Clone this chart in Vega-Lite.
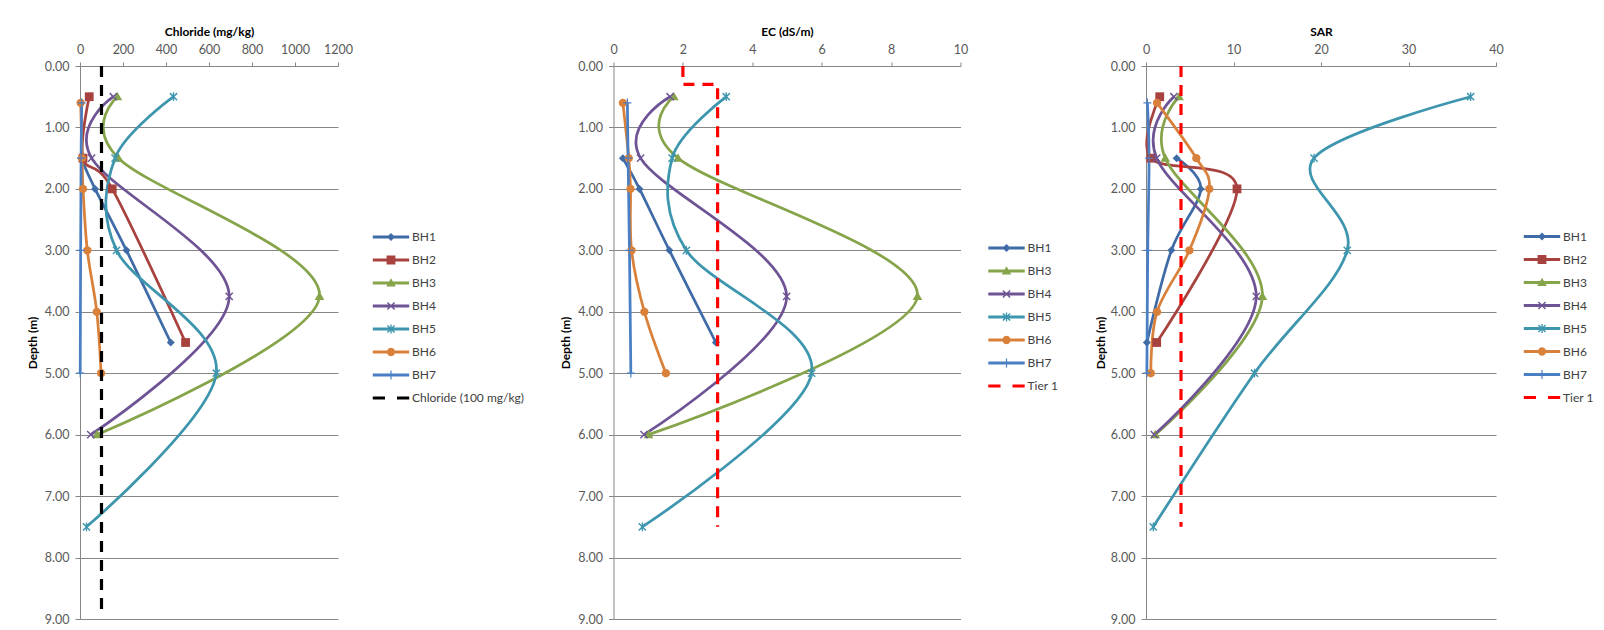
{
  "$schema": "https://vega.github.io/schema/vega-lite/v6.json",
  "background": "white",
  "padding": {"left": 26, "top": 25, "right": 0, "bottom": 0},
  "datasets": {
    "chl": [
      {"series": "BH1", "depth": 1.5, "value": 5},
      {"series": "BH1", "depth": 2.0, "value": 70},
      {"series": "BH1", "depth": 3.0, "value": 216},
      {"series": "BH1", "depth": 4.5, "value": 422},
      {"series": "BH2", "depth": 0.5, "value": 43},
      {"series": "BH2", "depth": 1.5, "value": 14},
      {"series": "BH2", "depth": 2.0, "value": 150},
      {"series": "BH2", "depth": 4.5, "value": 491},
      {"series": "BH3", "depth": 0.5, "value": 174},
      {"series": "BH3", "depth": 1.5, "value": 179},
      {"series": "BH3", "depth": 3.75, "value": 1114},
      {"series": "BH3", "depth": 6.0, "value": 79},
      {"series": "BH4", "depth": 0.5, "value": 155},
      {"series": "BH4", "depth": 1.5, "value": 54},
      {"series": "BH4", "depth": 3.75, "value": 694},
      {"series": "BH4", "depth": 6.0, "value": 50},
      {"series": "BH5", "depth": 0.5, "value": 435},
      {"series": "BH5", "depth": 1.5, "value": 163},
      {"series": "BH5", "depth": 3.0, "value": 170},
      {"series": "BH5", "depth": 5.0, "value": 634},
      {"series": "BH5", "depth": 7.5, "value": 30},
      {"series": "BH6", "depth": 0.6, "value": 3},
      {"series": "BH6", "depth": 1.5, "value": 10},
      {"series": "BH6", "depth": 2.0, "value": 14},
      {"series": "BH6", "depth": 3.0, "value": 34},
      {"series": "BH6", "depth": 4.0, "value": 78},
      {"series": "BH6", "depth": 5.0, "value": 98},
      {"series": "BH7", "depth": 0.6, "value": 8},
      {"series": "BH7", "depth": 1.5, "value": 5},
      {"series": "BH7", "depth": 3.0, "value": 3},
      {"series": "BH7", "depth": 5.0, "value": 1},
      {"series": "Chloride (100 mg/kg)", "depth": 0, "value": 100},
      {"series": "Chloride (100 mg/kg)", "depth": 8.9, "value": 100}
    ],
    "ec": [
      {"series": "BH1", "depth": 1.5, "value": 0.27},
      {"series": "BH1", "depth": 2.0, "value": 0.75},
      {"series": "BH1", "depth": 3.0, "value": 1.61},
      {"series": "BH1", "depth": 4.5, "value": 2.95},
      {"series": "BH3", "depth": 0.5, "value": 1.74},
      {"series": "BH3", "depth": 1.5, "value": 1.86},
      {"series": "BH3", "depth": 3.75, "value": 8.76},
      {"series": "BH3", "depth": 6.0, "value": 1.01},
      {"series": "BH4", "depth": 0.5, "value": 1.63},
      {"series": "BH4", "depth": 1.5, "value": 0.78},
      {"series": "BH4", "depth": 3.75, "value": 4.99},
      {"series": "BH4", "depth": 6.0, "value": 0.88},
      {"series": "BH5", "depth": 0.5, "value": 3.25},
      {"series": "BH5", "depth": 1.5, "value": 1.69},
      {"series": "BH5", "depth": 3.0, "value": 2.1},
      {"series": "BH5", "depth": 5.0, "value": 5.71},
      {"series": "BH5", "depth": 7.5, "value": 0.83},
      {"series": "BH6", "depth": 0.6, "value": 0.27},
      {"series": "BH6", "depth": 1.5, "value": 0.44},
      {"series": "BH6", "depth": 2.0, "value": 0.49},
      {"series": "BH6", "depth": 3.0, "value": 0.52},
      {"series": "BH6", "depth": 4.0, "value": 0.89},
      {"series": "BH6", "depth": 5.0, "value": 1.51},
      {"series": "BH7", "depth": 0.6, "value": 0.4},
      {"series": "BH7", "depth": 1.5, "value": 0.42},
      {"series": "BH7", "depth": 3.0, "value": 0.46},
      {"series": "BH7", "depth": 5.0, "value": 0.5},
      {"series": "Tier 1", "depth": 0, "value": 2},
      {"series": "Tier 1", "depth": 0.3, "value": 2},
      {"series": "Tier 1", "depth": 0.3, "value": 3},
      {"series": "Tier 1", "depth": 7.5, "value": 3}
    ],
    "sar": [
      {"series": "BH1", "depth": 1.5, "value": 3.5},
      {"series": "BH1", "depth": 2.0, "value": 6.26},
      {"series": "BH1", "depth": 3.0, "value": 2.9},
      {"series": "BH1", "depth": 4.5, "value": 0.1},
      {"series": "BH2", "depth": 0.5, "value": 1.57},
      {"series": "BH2", "depth": 1.5, "value": 0.55},
      {"series": "BH2", "depth": 2.0, "value": 10.4},
      {"series": "BH2", "depth": 4.5, "value": 1.22},
      {"series": "BH3", "depth": 0.5, "value": 3.78},
      {"series": "BH3", "depth": 1.5, "value": 2.2},
      {"series": "BH3", "depth": 3.75, "value": 13.3},
      {"series": "BH3", "depth": 6.0, "value": 1.06},
      {"series": "BH4", "depth": 0.5, "value": 3.19},
      {"series": "BH4", "depth": 1.5, "value": 1.22},
      {"series": "BH4", "depth": 3.75, "value": 12.6},
      {"series": "BH4", "depth": 6.0, "value": 0.95},
      {"series": "BH5", "depth": 0.5, "value": 37.1},
      {"series": "BH5", "depth": 1.5, "value": 19.2},
      {"series": "BH5", "depth": 3.0, "value": 23.0},
      {"series": "BH5", "depth": 5.0, "value": 12.4},
      {"series": "BH5", "depth": 7.5, "value": 0.83},
      {"series": "BH6", "depth": 0.6, "value": 1.26},
      {"series": "BH6", "depth": 1.5, "value": 5.75},
      {"series": "BH6", "depth": 2.0, "value": 7.24},
      {"series": "BH6", "depth": 3.0, "value": 4.96},
      {"series": "BH6", "depth": 4.0, "value": 1.26},
      {"series": "BH6", "depth": 5.0, "value": 0.55},
      {"series": "BH7", "depth": 0.6, "value": 0.16},
      {"series": "BH7", "depth": 1.5, "value": 0.35},
      {"series": "BH7", "depth": 3.0, "value": 0.2},
      {"series": "BH7", "depth": 5.0, "value": 0.1},
      {"series": "Tier 1", "depth": 0, "value": 4},
      {"series": "Tier 1", "depth": 7.5, "value": 4}
    ]
  },
  "hconcat": [
    {
      "data": {"name": "chl"},
      "width": 258,
      "height": 553,
      "encoding": {
        "x": {"field": "value", "type": "quantitative", "scale": {"domain": [0, 1200], "nice": false, "zero": false},
              "axis": {"orient": "top", "title": "Chloride (mg/kg)", "values": [0, 200, 400, 600, 800, 1000, 1200], "format": "d"}},
        "y": {"field": "depth", "type": "quantitative", "scale": {"domain": [0, 9], "reverse": true, "nice": false, "zero": false},
              "axis": {"title": "Depth (m)", "values": [0, 1, 2, 3, 4, 5, 6, 7, 8, 9], "format": ".2f"}}
      },
      "layer": [
        {
          "transform": [{"filter": "datum.series !== 'Chloride (100 mg/kg)'"}],
          "mark": {"type": "line", "interpolate": "cardinal", "strokeWidth": 2.75},
          "encoding": {
            "color": {"field": "series", "type": "nominal", "legend": null,
                      "scale": {"domain": ["BH1", "BH2", "BH3", "BH4", "BH5", "BH6", "BH7", "Chloride (100 mg/kg)"],
                                "range": ["#3F6BA7", "#A8423F", "#86A44A", "#6E5494", "#3D96AE", "#D9813A", "#4A7FC4", "#000000"]}},
            "order": {"field": "depth", "type": "quantitative"}
          }
        },
        {
          "transform": [{"filter": "datum.series !== 'Chloride (100 mg/kg)'"}],
          "mark": {"type": "point", "filled": true, "opacity": 1, "size": 64},
          "encoding": {
            "color": {"field": "series", "type": "nominal", "legend": null,
                      "scale": {"domain": ["BH1", "BH2", "BH3", "BH4", "BH5", "BH6", "BH7", "Chloride (100 mg/kg)"],
                                "range": ["#3F6BA7", "#A8423F", "#86A44A", "#6E5494", "#3D96AE", "#D9813A", "#4A7FC4", "#000000"]}},
            "shape": {"field": "series", "type": "nominal", "legend": null,
                      "scale": {"domain": ["BH1", "BH2", "BH3", "BH4", "BH5", "BH6", "BH7", "Chloride (100 mg/kg)"],
                                "range": [
                                  "M0,-1L1,0L0,1L-1,0Z",
                                  "M-1.1,-1.1H1.1V1.1H-1.1Z",
                                  "M0,-1.2L1.2,0.9L-1.2,0.9Z",
                                  "M-0.773,-1.027L1.027,0.773L0.773,1.027L-1.027,-0.773ZM-1.027,0.773L0.773,-1.027L1.027,-0.773L-0.773,1.027Z",
                                  "M-0.773,-1.027L1.027,0.773L0.773,1.027L-1.027,-0.773ZM-1.027,0.773L0.773,-1.027L1.027,-0.773L-0.773,1.027ZM-0.17,-1.1H0.17V1.1H-0.17Z",
                                  "M0,-1.05L0.525,-0.909L0.909,-0.525L1.05,0L0.909,0.525L0.525,0.909L0,1.05L-0.525,0.909L-0.909,0.525L-1.05,0L-0.909,-0.525L-0.525,-0.909Z",
                                  "M-0.15,-1.1H0.15V1.1H-0.15ZM-1,-0.15H1V0.15H-1Z",
                                  "M-0.1,-0.1H0.1V0.1H-0.1Z"
                                ]}}
          }
        },
        {
          "transform": [{"filter": "datum.series === 'Chloride (100 mg/kg)'"}],
          "mark": {"type": "line", "color": "#000000", "strokeWidth": 3.2, "strokeDash": [11, 8]},
          "encoding": {"order": [{"field": "depth", "type": "quantitative"}, {"field": "value", "type": "quantitative"}]}
        },
        {
          "mark": {"type": "point", "filled": true, "opacity": 1, "size": 0},
          "encoding": {
            "color": {"field": "series", "type": "nominal",
                      "scale": {"domain": ["BH1", "BH2", "BH3", "BH4", "BH5", "BH6", "BH7", "Chloride (100 mg/kg)"],
                                "range": ["#3F6BA7", "#A8423F", "#86A44A", "#6E5494", "#3D96AE", "#D9813A", "#4A7FC4", "#000000"]},
                      "legend": {"orient": "none", "legendX": 292, "legendY": 165, "title": null, "symbolSize": 64,
                                 "symbolOpacity": 1, "symbolStrokeWidth": 0, "symbolOffset": 13, "labelOffset": 15,
                                 "rowPadding": 11, "padding": 0}},
            "shape": {"field": "series", "type": "nominal",
                      "scale": {"domain": ["BH1", "BH2", "BH3", "BH4", "BH5", "BH6", "BH7", "Chloride (100 mg/kg)"],
                                "range": [
                                  "M-4.55,-0.38H4.55V0.38H-4.55ZM0,-1L1,0L0,1L-1,0Z",
                                  "M-4.55,-0.38H4.55V0.38H-4.55ZM-1.1,-1.1H1.1V1.1H-1.1Z",
                                  "M-4.55,-0.38H4.55V0.38H-4.55ZM0,-1.2L1.2,0.9L-1.2,0.9Z",
                                  "M-4.55,-0.38H4.55V0.38H-4.55ZM-0.773,-1.027L1.027,0.773L0.773,1.027L-1.027,-0.773ZM-1.027,0.773L0.773,-1.027L1.027,-0.773L-0.773,1.027Z",
                                  "M-4.55,-0.38H4.55V0.38H-4.55ZM-0.773,-1.027L1.027,0.773L0.773,1.027L-1.027,-0.773ZM-1.027,0.773L0.773,-1.027L1.027,-0.773L-0.773,1.027ZM-0.17,-1.1H0.17V1.1H-0.17Z",
                                  "M-4.55,-0.38H4.55V0.38H-4.55ZM0,-1.05L0.525,-0.909L0.909,-0.525L1.05,0L0.909,0.525L0.525,0.909L0,1.05L-0.525,0.909L-0.909,0.525L-1.05,0L-0.909,-0.525L-0.525,-0.909Z",
                                  "M-4.55,-0.38H4.55V0.38H-4.55ZM-0.15,-1.1H0.15V1.1H-0.15Z",
                                  "M-4.55,-0.4H-1.5V0.4H-4.55ZM1.5,-0.4H4.55V0.4H1.5Z"
                                ]}}
          }
        }
      ],
      "resolve": {"scale": {"color": "independent", "shape": "independent"}, "legend": {"color": "independent", "shape": "independent"}}
    },
    {
      "data": {"name": "ec"},
      "width": 347,
      "height": 553,
      "encoding": {
        "x": {"field": "value", "type": "quantitative", "scale": {"domain": [0, 10], "nice": false, "zero": false},
              "axis": {"orient": "top", "title": "EC (dS/m)", "values": [0, 2, 4, 6, 8, 10], "format": "d"}},
        "y": {"field": "depth", "type": "quantitative", "scale": {"domain": [0, 9], "reverse": true, "nice": false, "zero": false},
              "axis": {"title": "Depth (m)", "values": [0, 1, 2, 3, 4, 5, 6, 7, 8, 9], "format": ".2f"}}
      },
      "layer": [
        {
          "transform": [{"filter": "datum.series !== 'Tier 1'"}],
          "mark": {"type": "line", "interpolate": "cardinal", "strokeWidth": 2.75},
          "encoding": {
            "color": {"field": "series", "type": "nominal", "legend": null,
                      "scale": {"domain": ["BH1", "BH3", "BH4", "BH5", "BH6", "BH7", "Tier 1"],
                                "range": ["#3F6BA7", "#86A44A", "#6E5494", "#3D96AE", "#D9813A", "#4A7FC4", "#FF0000"]}},
            "order": {"field": "depth", "type": "quantitative"}
          }
        },
        {
          "transform": [{"filter": "datum.series !== 'Tier 1'"}],
          "mark": {"type": "point", "filled": true, "opacity": 1, "size": 64},
          "encoding": {
            "color": {"field": "series", "type": "nominal", "legend": null,
                      "scale": {"domain": ["BH1", "BH3", "BH4", "BH5", "BH6", "BH7", "Tier 1"],
                                "range": ["#3F6BA7", "#86A44A", "#6E5494", "#3D96AE", "#D9813A", "#4A7FC4", "#FF0000"]}},
            "shape": {"field": "series", "type": "nominal", "legend": null,
                      "scale": {"domain": ["BH1", "BH3", "BH4", "BH5", "BH6", "BH7", "Tier 1"],
                                "range": [
                                  "M0,-1L1,0L0,1L-1,0Z",
                                  "M0,-1.2L1.2,0.9L-1.2,0.9Z",
                                  "M-0.773,-1.027L1.027,0.773L0.773,1.027L-1.027,-0.773ZM-1.027,0.773L0.773,-1.027L1.027,-0.773L-0.773,1.027Z",
                                  "M-0.773,-1.027L1.027,0.773L0.773,1.027L-1.027,-0.773ZM-1.027,0.773L0.773,-1.027L1.027,-0.773L-0.773,1.027ZM-0.17,-1.1H0.17V1.1H-0.17Z",
                                  "M0,-1.05L0.525,-0.909L0.909,-0.525L1.05,0L0.909,0.525L0.525,0.909L0,1.05L-0.525,0.909L-0.909,0.525L-1.05,0L-0.909,-0.525L-0.525,-0.909Z",
                                  "M-0.15,-1.1H0.15V1.1H-0.15ZM-1,-0.15H1V0.15H-1Z",
                                  "M-0.1,-0.1H0.1V0.1H-0.1Z"
                                ]}}
          }
        },
        {
          "transform": [{"filter": "datum.series === 'Tier 1'"}],
          "mark": {"type": "line", "color": "#FF0000", "strokeWidth": 3.2, "strokeDash": [11, 8]},
          "encoding": {"order": [{"field": "depth", "type": "quantitative"}, {"field": "value", "type": "quantitative"}]}
        },
        {
          "mark": {"type": "point", "filled": true, "opacity": 1, "size": 0},
          "encoding": {
            "color": {"field": "series", "type": "nominal",
                      "scale": {"domain": ["BH1", "BH3", "BH4", "BH5", "BH6", "BH7", "Tier 1"],
                                "range": ["#3F6BA7", "#86A44A", "#6E5494", "#3D96AE", "#D9813A", "#4A7FC4", "#FF0000"]},
                      "legend": {"orient": "none", "legendX": 374, "legendY": 176, "title": null, "symbolSize": 64,
                                 "symbolOpacity": 1, "symbolStrokeWidth": 0, "symbolOffset": 13, "labelOffset": 15,
                                 "rowPadding": 11, "padding": 0}},
            "shape": {"field": "series", "type": "nominal",
                      "scale": {"domain": ["BH1", "BH3", "BH4", "BH5", "BH6", "BH7", "Tier 1"],
                                "range": [
                                  "M-4.55,-0.38H4.55V0.38H-4.55ZM0,-1L1,0L0,1L-1,0Z",
                                  "M-4.55,-0.38H4.55V0.38H-4.55ZM0,-1.2L1.2,0.9L-1.2,0.9Z",
                                  "M-4.55,-0.38H4.55V0.38H-4.55ZM-0.773,-1.027L1.027,0.773L0.773,1.027L-1.027,-0.773ZM-1.027,0.773L0.773,-1.027L1.027,-0.773L-0.773,1.027Z",
                                  "M-4.55,-0.38H4.55V0.38H-4.55ZM-0.773,-1.027L1.027,0.773L0.773,1.027L-1.027,-0.773ZM-1.027,0.773L0.773,-1.027L1.027,-0.773L-0.773,1.027ZM-0.17,-1.1H0.17V1.1H-0.17Z",
                                  "M-4.55,-0.38H4.55V0.38H-4.55ZM0,-1.05L0.525,-0.909L0.909,-0.525L1.05,0L0.909,0.525L0.525,0.909L0,1.05L-0.525,0.909L-0.909,0.525L-1.05,0L-0.909,-0.525L-0.525,-0.909Z",
                                  "M-4.55,-0.38H4.55V0.38H-4.55ZM-0.15,-1.1H0.15V1.1H-0.15Z",
                                  "M-4.55,-0.4H-1.5V0.4H-4.55ZM1.5,-0.4H4.55V0.4H1.5Z"
                                ]}}
          }
        }
      ],
      "resolve": {"scale": {"color": "independent", "shape": "independent"}, "legend": {"color": "independent", "shape": "independent"}}
    },
    {
      "data": {"name": "sar"},
      "width": 350,
      "height": 553,
      "encoding": {
        "x": {"field": "value", "type": "quantitative", "scale": {"domain": [0, 40], "nice": false, "zero": false},
              "axis": {"orient": "top", "title": "SAR", "values": [0, 10, 20, 30, 40], "format": "d"}},
        "y": {"field": "depth", "type": "quantitative", "scale": {"domain": [0, 9], "reverse": true, "nice": false, "zero": false},
              "axis": {"title": "Depth (m)", "values": [0, 1, 2, 3, 4, 5, 6, 7, 8, 9], "format": ".2f", "titlePadding": 3}}
      },
      "layer": [
        {
          "transform": [{"filter": "datum.series !== 'Tier 1'"}],
          "mark": {"type": "line", "interpolate": "cardinal", "strokeWidth": 2.75},
          "encoding": {
            "color": {"field": "series", "type": "nominal", "legend": null,
                      "scale": {"domain": ["BH1", "BH2", "BH3", "BH4", "BH5", "BH6", "BH7", "Tier 1"],
                                "range": ["#3F6BA7", "#A8423F", "#86A44A", "#6E5494", "#3D96AE", "#D9813A", "#4A7FC4", "#FF0000"]}},
            "order": {"field": "depth", "type": "quantitative"}
          }
        },
        {
          "transform": [{"filter": "datum.series !== 'Tier 1'"}],
          "mark": {"type": "point", "filled": true, "opacity": 1, "size": 64},
          "encoding": {
            "color": {"field": "series", "type": "nominal", "legend": null,
                      "scale": {"domain": ["BH1", "BH2", "BH3", "BH4", "BH5", "BH6", "BH7", "Tier 1"],
                                "range": ["#3F6BA7", "#A8423F", "#86A44A", "#6E5494", "#3D96AE", "#D9813A", "#4A7FC4", "#FF0000"]}},
            "shape": {"field": "series", "type": "nominal", "legend": null,
                      "scale": {"domain": ["BH1", "BH2", "BH3", "BH4", "BH5", "BH6", "BH7", "Tier 1"],
                                "range": [
                                  "M0,-1L1,0L0,1L-1,0Z",
                                  "M-1.1,-1.1H1.1V1.1H-1.1Z",
                                  "M0,-1.2L1.2,0.9L-1.2,0.9Z",
                                  "M-0.773,-1.027L1.027,0.773L0.773,1.027L-1.027,-0.773ZM-1.027,0.773L0.773,-1.027L1.027,-0.773L-0.773,1.027Z",
                                  "M-0.773,-1.027L1.027,0.773L0.773,1.027L-1.027,-0.773ZM-1.027,0.773L0.773,-1.027L1.027,-0.773L-0.773,1.027ZM-0.17,-1.1H0.17V1.1H-0.17Z",
                                  "M0,-1.05L0.525,-0.909L0.909,-0.525L1.05,0L0.909,0.525L0.525,0.909L0,1.05L-0.525,0.909L-0.909,0.525L-1.05,0L-0.909,-0.525L-0.525,-0.909Z",
                                  "M-0.15,-1.1H0.15V1.1H-0.15ZM-1,-0.15H1V0.15H-1Z",
                                  "M-0.1,-0.1H0.1V0.1H-0.1Z"
                                ]}}
          }
        },
        {
          "transform": [{"filter": "datum.series === 'Tier 1'"}],
          "mark": {"type": "line", "color": "#FF0000", "strokeWidth": 3.2, "strokeDash": [11, 8]},
          "encoding": {"order": [{"field": "depth", "type": "quantitative"}, {"field": "value", "type": "quantitative"}]}
        },
        {
          "mark": {"type": "point", "filled": true, "opacity": 1, "size": 0},
          "encoding": {
            "color": {"field": "series", "type": "nominal",
                      "scale": {"domain": ["BH1", "BH2", "BH3", "BH4", "BH5", "BH6", "BH7", "Tier 1"],
                                "range": ["#3F6BA7", "#A8423F", "#86A44A", "#6E5494", "#3D96AE", "#D9813A", "#4A7FC4", "#FF0000"]},
                      "legend": {"orient": "none", "legendX": 377, "legendY": 164.5, "title": null, "symbolSize": 64,
                                 "symbolOpacity": 1, "symbolStrokeWidth": 0, "symbolOffset": 13, "labelOffset": 15,
                                 "rowPadding": 11, "padding": 0}},
            "shape": {"field": "series", "type": "nominal",
                      "scale": {"domain": ["BH1", "BH2", "BH3", "BH4", "BH5", "BH6", "BH7", "Tier 1"],
                                "range": [
                                  "M-4.55,-0.38H4.55V0.38H-4.55ZM0,-1L1,0L0,1L-1,0Z",
                                  "M-4.55,-0.38H4.55V0.38H-4.55ZM-1.1,-1.1H1.1V1.1H-1.1Z",
                                  "M-4.55,-0.38H4.55V0.38H-4.55ZM0,-1.2L1.2,0.9L-1.2,0.9Z",
                                  "M-4.55,-0.38H4.55V0.38H-4.55ZM-0.773,-1.027L1.027,0.773L0.773,1.027L-1.027,-0.773ZM-1.027,0.773L0.773,-1.027L1.027,-0.773L-0.773,1.027Z",
                                  "M-4.55,-0.38H4.55V0.38H-4.55ZM-0.773,-1.027L1.027,0.773L0.773,1.027L-1.027,-0.773ZM-1.027,0.773L0.773,-1.027L1.027,-0.773L-0.773,1.027ZM-0.17,-1.1H0.17V1.1H-0.17Z",
                                  "M-4.55,-0.38H4.55V0.38H-4.55ZM0,-1.05L0.525,-0.909L0.909,-0.525L1.05,0L0.909,0.525L0.525,0.909L0,1.05L-0.525,0.909L-0.909,0.525L-1.05,0L-0.909,-0.525L-0.525,-0.909Z",
                                  "M-4.55,-0.38H4.55V0.38H-4.55ZM-0.15,-1.1H0.15V1.1H-0.15Z",
                                  "M-4.55,-0.4H-1.5V0.4H-4.55ZM1.5,-0.4H4.55V0.4H1.5Z"
                                ]}}
          }
        }
      ],
      "resolve": {"scale": {"color": "independent", "shape": "independent"}, "legend": {"color": "independent", "shape": "independent"}}
    }
  ],
  "spacing": 35.5,
  "resolve": {"scale": {"color": "independent", "shape": "independent"}, "legend": {"color": "independent", "shape": "independent"}},
  "config": {
    "font": "Lato",
    "view": {"stroke": null},
    "axis": {
      "labelFont": "Lato", "labelFontSize": 12.5, "labelColor": "#595959",
      "titleFont": "Lato", "titleFontSize": 12, "titleFontWeight": "bold", "titleColor": "#000000",
      "domainColor": "#868686", "tickColor": "#868686", "gridColor": "#868686",
      "domainWidth": 1, "tickWidth": 1, "gridWidth": 1,
      "labelFlush": false, "labelOverlap": false
    },
    "axisX": {"grid": false, "tickSize": 4, "labelPadding": 6, "titlePadding": 5},
    "axisY": {"grid": true, "tickSize": 5, "labelPadding": 6, "titlePadding": 5},
    "legend": {"labelFont": "Lato", "labelFontSize": 12, "labelColor": "#404040"}
  }
}
